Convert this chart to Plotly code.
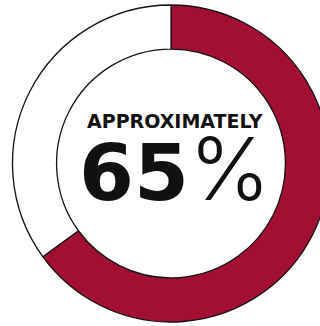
import plotly.graph_objects as go

# Data
labels = ["Approximately", "Remainder"]
values = [65, 35]
headline = "APPROXIMATELY"
number_text = "65"
percent_sign = "%"

W, H = 342, 326

fig = go.Figure()
fig.add_trace(go.Pie(
    labels=labels,
    values=values,
    sort=False,
    direction="clockwise",
    rotation=0,
    hole=0.722,
    textinfo="none",
    hoverinfo="skip",
    showlegend=False,
    marker=dict(colors=["#A30F33", "#FFFFFF"], line=dict(color="#111111", width=1.3)),
    domain=dict(x=[0, 1], y=[0.0123, 0.9847]),
))

def px(x):
    return x / W

def py(y):
    return 1 - y / H

label_text = (
    f"<span style='font-size:19px'>{headline}</span><br>"
    f"<span style='font-size:79px'>{number_text}</span>"
    f"<span style='font-size:87px;font-family:Inter;font-weight:300'>{percent_sign}</span>"
)

fig.add_annotation(x=px(174), y=py(166), xref="paper", yref="paper",
                   text=label_text, showarrow=False, xanchor="center", yanchor="middle",
                   align="center",
                   font=dict(family="DejaVu Sans", size=55, color="#111111", weight=700))

fig.update_layout(
    width=W, height=H,
    margin=dict(l=0, r=0, t=0, b=0),
    paper_bgcolor="white", plot_bgcolor="white",
)

fig.write_html("out.html", config={"displayModeBar": False},
               post_script="document.body.style.margin='0';document.body.style.overflow='hidden';document.documentElement.style.overflow='hidden';")
